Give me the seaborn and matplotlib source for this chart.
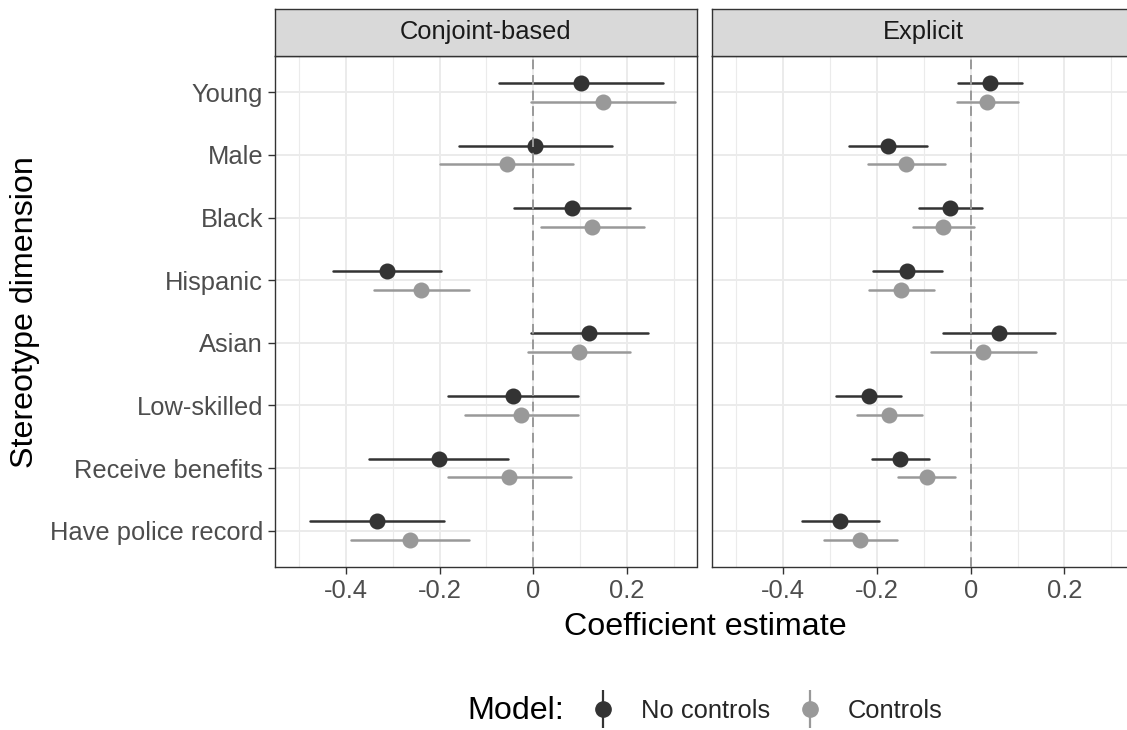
import numpy as np
import pandas as pd
import matplotlib
matplotlib.use("Agg")
import matplotlib.pyplot as plt
from matplotlib.lines import Line2D
from matplotlib.legend_handler import HandlerTuple
import seaborn as sns

# Stereotype dimensions (top to bottom)
dimensions = ["Young", "Male", "Black", "Hispanic", "Asian",
              "Low-skilled", "Receive benefits", "Have police record"]
models = ["No controls", "Controls"]
panels = ["Conjoint-based", "Explicit"]

# Conjoint-based, no controls
conj_nc_est = [0.101, 0.004, 0.082, -0.313, 0.119, -0.043, -0.202, -0.333]
conj_nc_lo = [-0.073, -0.158, -0.042, -0.428, -0.006, -0.182, -0.351, -0.476]
conj_nc_hi = [0.276, 0.167, 0.207, -0.197, 0.244, 0.095, -0.054, -0.190]
# Conjoint-based, controls
conj_c_est = [0.149, -0.057, 0.126, -0.239, 0.098, -0.026, -0.051, -0.264]
conj_c_lo = [-0.005, -0.199, 0.017, -0.340, -0.011, -0.146, -0.182, -0.389]
conj_c_hi = [0.303, 0.085, 0.236, -0.137, 0.207, 0.095, 0.080, -0.138]
# Explicit, no controls
expl_nc_est = [0.041, -0.176, -0.044, -0.136, 0.060, -0.217, -0.150, -0.279]
expl_nc_lo = [-0.027, -0.260, -0.111, -0.209, -0.058, -0.287, -0.211, -0.359]
expl_nc_hi = [0.109, -0.093, 0.025, -0.061, 0.179, -0.148, -0.088, -0.196]
# Explicit, controls
expl_c_est = [0.035, -0.138, -0.060, -0.148, 0.026, -0.174, -0.094, -0.235]
expl_c_lo = [-0.030, -0.219, -0.124, -0.216, -0.085, -0.243, -0.154, -0.312]
expl_c_hi = [0.102, -0.055, 0.007, -0.078, 0.140, -0.104, -0.033, -0.156]

x_ticks = [-0.4, -0.2, 0, 0.2]
x_tick_labels = ["-0.4", "-0.2", "0", "0.2"]

series = {
    ("Conjoint-based", "No controls"): (conj_nc_est, conj_nc_lo, conj_nc_hi),
    ("Conjoint-based", "Controls"): (conj_c_est, conj_c_lo, conj_c_hi),
    ("Explicit", "No controls"): (expl_nc_est, expl_nc_lo, expl_nc_hi),
    ("Explicit", "Controls"): (expl_c_est, expl_c_lo, expl_c_hi),
}

# long table: each group holds lo / est / hi so median = est and min-max = interval
rows = []
for (panel, model), (est, lo, hi) in series.items():
    for d, e, l, h in zip(dimensions, est, lo, hi):
        for v in (l, e, h):
            rows.append({"panel": panel, "model": model, "dimension": d, "value": v})
df = pd.DataFrame(rows)

sns.set_theme(style="white")
plt.rcParams["font.family"] = ["Liberation Sans", "DejaVu Sans"]
plt.rcParams["axes.unicode_minus"] = False

W, H = 1127, 730
fig = plt.figure(figsize=(W / 100, H / 100), dpi=100)

palette = {"No controls": "#333333", "Controls": "#999999"}
dark = "#333333"
small = 18.4
big = 23.2

panel_left = [275, 712.3]
panel_w = 421.5
panel_top, panel_bot = 56, 567
strip_top = 9

for i, panel in enumerate(panels):
    ax = fig.add_axes([panel_left[i] / W, (H - panel_bot) / H,
                       panel_w / W, (panel_bot - panel_top) / H])
    sub = df[df["panel"] == panel]
    sns.pointplot(data=sub, x="value", y="dimension", hue="model",
                  order=dimensions, hue_order=models, palette=palette,
                  estimator="median", errorbar=("pi", 100), dodge=0.3,
                  markers="o", linestyle="none", markersize=9.5,
                  err_kws={"linewidth": 1.8}, orient="h", legend=False,
                  ax=ax, zorder=3)
    ax.axvline(0, color="#999999", lw=1.4, ls=(0, (5, 3)), zorder=5)

    ax.set_xlim(-0.551, 0.348)
    ax.set_ylim(len(dimensions) - 1 + 0.58, -0.58)
    ax.set_xticks(x_ticks)
    ax.set_xticklabels(x_tick_labels)
    ax.set_xticks([-0.5, -0.3, -0.1, 0.1, 0.3], minor=True)
    ax.grid(True, which="major", color="#EBEBEB", lw=1.4, zorder=0)
    ax.grid(True, which="minor", axis="x", color="#EBEBEB", lw=0.8, zorder=0)
    ax.set_axisbelow(True)
    ax.set_xlabel("")
    ax.set_ylabel("")
    for s in ax.spines.values():
        s.set_color(dark)
        s.set_linewidth(1.0)
    ax.tick_params(axis="x", which="major", length=5, width=1.0, color=dark,
                   labelsize=small, labelcolor="#4D4D4D", pad=4, bottom=True)
    ax.tick_params(axis="x", which="minor", length=0)
    if i == 0:
        ax.tick_params(axis="y", length=5, width=1.0, color=dark,
                       labelsize=small, labelcolor="#4D4D4D", pad=3.5, left=True)
    else:
        ax.tick_params(axis="y", length=0, labelleft=False)

    # facet strip
    sax = fig.add_axes([panel_left[i] / W, (H - panel_top) / H,
                        panel_w / W, (panel_top - strip_top) / H])
    sax.set_facecolor("#D9D9D9")
    sax.set_xticks([])
    sax.set_yticks([])
    for s in sax.spines.values():
        s.set_color(dark)
        s.set_linewidth(1.0)
    sax.text(0.5, 0.5, panel, ha="center", va="center", fontsize=small,
             color="#1A1A1A", transform=sax.transAxes)

fig.text(705 / W, (H - 627) / H, "Coefficient estimate", ha="center",
         va="center", fontsize=big, color="black")
fig.text(25 / W, (H - 312) / H, "Stereotype dimension", ha="center",
         va="center", rotation=90, fontsize=big, color="black")

# legend
fig.text(467 / W, (H - 711) / H, "Model:", ha="left", va="center",
         fontsize=big, color="black")
handles = []
for m in models:
    vline = Line2D([], [], marker="|", markersize=27, mew=1.6,
                   linestyle="none", color=palette[m])
    dot = Line2D([], [], marker="o", markersize=11, linestyle="none",
                 color=palette[m])
    handles.append((vline, dot))
fig.legend(handles, models, handler_map={tuple: HandlerTuple(ndivide=1)},
           loc="center left", bbox_to_anchor=(590 / W, (H - 711) / H),
           ncol=2, frameon=False, fontsize=small, handlelength=1.0,
           handletextpad=1.01, columnspacing=1.03, borderpad=0,
           borderaxespad=0)

fig.savefig("out.png", dpi=100)
